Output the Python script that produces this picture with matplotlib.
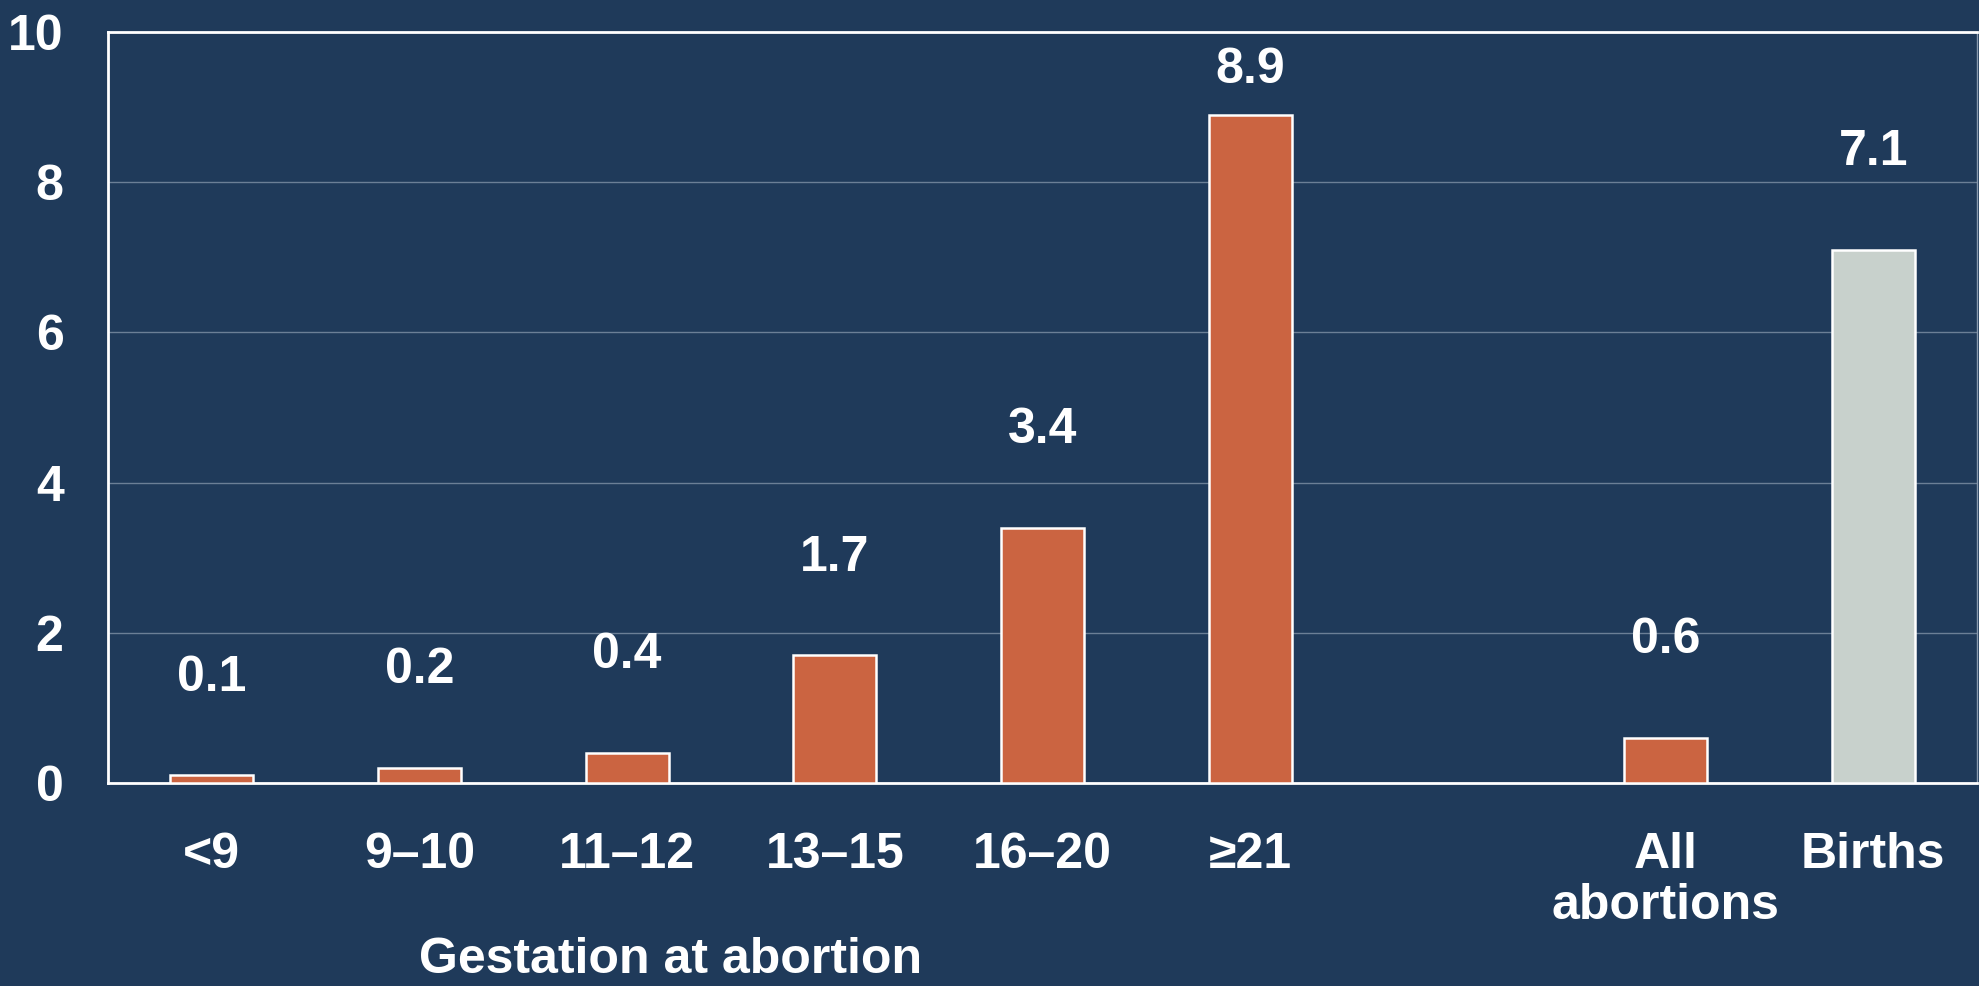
import numpy as np
import matplotlib
matplotlib.use('Agg')
import matplotlib.pyplot as plt

# data
categories = ['<9', '9\u201310', '11\u201312', '13\u201315', '16\u201320', '\u226521', '', 'All\nabortions', 'Births']
values = [0.1, 0.2, 0.4, 1.7, 3.4, 8.9, None, 0.6, 7.1]
labels = ['0.1', '0.2', '0.4', '1.7', '3.4', '8.9', '', '0.6', '7.1']
yticks = [0, 2, 4, 6, 8, 10]

bg = '#1f3a5a'
orange = '#cb6441'
grey = '#c8d1cc'

plt.rcParams['font.family'] = ['Liberation Sans', 'DejaVu Sans']
plt.rcParams['font.weight'] = 'bold'

fig = plt.figure(figsize=(19.79, 9.86), dpi=100, facecolor=bg)
ax = fig.add_axes([108/1979, 1 - 783/986, (1977 - 108)/1979, (783 - 32)/986])
ax.set_facecolor(bg)

x = np.arange(len(categories))
for i, v in enumerate(values):
    if v is None:
        continue
    col = grey if categories[i] == 'Births' else orange
    ax.bar(x[i], v, width=0.4, color=col, edgecolor='white', linewidth=1.8, zorder=3)
    ax.text(x[i], min(v + 1.3, 9.5), labels[i], ha='center', va='center',
            color='white', fontsize=36, fontweight='bold', zorder=4)

ax.set_xlim(-0.5, len(categories) - 0.5)
ax.set_ylim(0, 10)
ax.set_yticks(yticks)
ax.set_yticklabels([str(t) for t in yticks])
ax.set_xticks(x)
ax.set_xticklabels(categories, linespacing=1.15)
ax.tick_params(axis='both', length=0, colors='white', labelsize=36)
ax.tick_params(axis='y', pad=32)
ax.tick_params(axis='x', pad=35)
for t in ax.get_xticklabels() + ax.get_yticklabels():
    t.set_fontweight('bold')

ax.yaxis.grid(True, color='#6b7f96', linewidth=1.0, zorder=0)
ax.set_axisbelow(True)

for s in ['top', 'left', 'bottom']:
    ax.spines[s].set_color('white')
    ax.spines[s].set_linewidth(2)
ax.spines['right'].set_color('#8a9bb0')
ax.spines['right'].set_linewidth(1)

fig.text(671/1979, 3/986, 'Gestation at abortion', ha='center', va='bottom',
         color='white', fontsize=36, fontweight='bold')

fig.savefig('out.png', dpi=100, facecolor=bg)
